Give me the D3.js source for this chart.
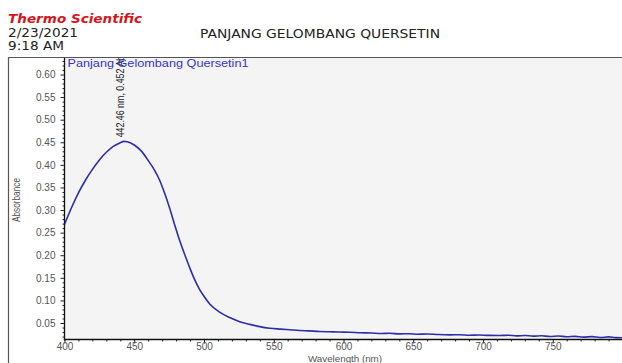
<!DOCTYPE html>
<html><head><meta charset="utf-8">
<script src="https://cdn.jsdelivr.net/npm/d3@7"></script>
<style>body{margin:0;background:#fff}svg{display:block}</style>
</head><body>
<script>
const wavelengths = [400,405,410,415,420,425,430,435,440,442.46,445,450,455,461,464.6,468.2,471.8,475.4,478.9,482.5,486.1,489.7,493.3,496.9,500.5,504.1,511.2,518.4,525.6,532.8,539.9,547.1,555,561.5,568.6,575,583,590,597,604.5,612,620,627,633,640.4,647,653,660,668,676.3,683,690,697,704,712.2,718,724,730,736,742,748,754,760,766,772,778,784,790,795,800];
const absorbance = [0.268,0.305,0.338,0.366,0.390,0.411,0.428,0.441,0.449,0.452,0.451,0.444,0.431,0.405,0.388,0.366,0.337,0.304,0.268,0.233,0.202,0.173,0.146,0.124,0.107,0.092,0.074,0.062,0.053,0.047,0.042,0.0385,0.0365,0.0350,0.0334,0.0325,0.0312,0.0306,0.0300,0.0296,0.0285,0.0280,0.0268,0.0272,0.0260,0.0262,0.0250,0.0256,0.0244,0.0238,0.0241,0.0230,0.0235,0.0226,0.0223,0.0230,0.0215,0.0224,0.0210,0.0218,0.0200,0.0212,0.0195,0.0205,0.0188,0.0198,0.0180,0.0192,0.0176,0.0172];
const xTicks = [400,450,500,550,600,650,700,750];
const yTicks = [0.05,0.10,0.15,0.20,0.25,0.30,0.35,0.40,0.45,0.50,0.55,0.60];
const peakLabel = "442.46 nm, 0.452 Abs";
const seriesName = "Panjang Gelombang Quersetin1";

const W=622,H=363;
const svg=d3.select("body").append("svg").attr("width",W).attr("height",H);
const L=64.5, R=622, T=58, B=339.5;
const x=d3.scaleLinear().domain([400,800]).range([L,R+0.5]);
const y=d3.scaleLinear().domain([0.0135,0.6365]).range([B,T]);

// header
svg.append("text").attr("x",8).attr("y",23).attr("fill","#d5141b").attr("font-family","DejaVu Sans").attr("font-weight","bold").attr("font-style","italic").attr("font-size",13).attr("textLength",134).attr("lengthAdjust","spacingAndGlyphs").text("Thermo Scientific");
svg.append("text").attr("x",8).attr("y",37).attr("fill","#222").attr("font-family","DejaVu Sans").attr("font-size",11.5).attr("textLength",70).attr("lengthAdjust","spacingAndGlyphs").text("2/23/2021");
svg.append("text").attr("x",8).attr("y",49.5).attr("fill","#222").attr("font-family","DejaVu Sans").attr("font-size",11.5).attr("textLength",56).attr("lengthAdjust","spacingAndGlyphs").text("9:18 AM");
svg.append("text").attr("x",200).attr("y",38).attr("fill","#222").attr("font-family","DejaVu Sans").attr("font-size",12).attr("textLength",240).attr("lengthAdjust","spacingAndGlyphs").text("PANJANG GELOMBANG QUERSETIN");

// frame
svg.append("line").attr("x1",8).attr("x2",W).attr("y1",57.5).attr("y2",57.5).attr("stroke","#555").attr("stroke-width",1.2);
svg.append("line").attr("x1",8.5).attr("x2",8.5).attr("y1",57).attr("y2",H).attr("stroke","#555").attr("stroke-width",1.2);

// plot bg
svg.append("rect").attr("x",L).attr("y",T).attr("width",R-L).attr("height",B-T).attr("fill","#f4f4f4");

const g=svg.append("g");
// y axis
const yAx=d3.axisLeft(y).tickValues(yTicks).tickFormat(d3.format(".2f")).tickSize(4).tickPadding(5);
const ya=g.append("g").attr("transform",`translate(${L},0)`).call(yAx);
ya.select(".domain").remove();
ya.selectAll("line").attr("stroke","#222");
ya.selectAll("text").attr("font-family","Liberation Sans").attr("font-size",10).attr("fill","#555");
const yMinor=d3.range(0.02,0.635,0.01).filter(v=>Math.abs(Math.round(v*20)-v*20)>1e-6);
const yMi=g.append("g").attr("transform",`translate(${L},0)`).call(d3.axisLeft(y).tickValues(yMinor).tickSize(2).tickFormat(""));
yMi.select(".domain").remove(); yMi.selectAll("line").attr("stroke","#222");

// x axis
const xAx=d3.axisBottom(x).tickValues(xTicks).tickFormat(d3.format("d")).tickSize(4).tickPadding(-0.5);
const xa=g.append("g").attr("transform",`translate(0,${B})`).call(xAx);
xa.select(".domain").remove();
xa.selectAll("line").attr("stroke","#222");
xa.selectAll("text").attr("font-family","Liberation Sans").attr("font-size",10).attr("fill","#555");
const xMinor=d3.range(410,800,10).filter(v=>v%50!==0);
const xMi=g.append("g").attr("transform",`translate(0,${B})`).call(d3.axisBottom(x).tickValues(xMinor).tickSize(2).tickFormat(""));
xMi.select(".domain").remove(); xMi.selectAll("line").attr("stroke","#222");

// axis lines
svg.append("line").attr("x1",L).attr("x2",L).attr("y1",T).attr("y2",B+1).attr("stroke","#111").attr("stroke-width",1.3);
svg.append("line").attr("x1",L).attr("x2",R).attr("y1",B).attr("y2",B).attr("stroke","#111").attr("stroke-width",1.3);

// axis titles
svg.append("text").attr("transform",`translate(20,200) rotate(-90)`).attr("text-anchor","middle").attr("font-family","Liberation Sans").attr("font-size",10).attr("fill","#555").attr("textLength",44).attr("lengthAdjust","spacingAndGlyphs").text("Absorbance");
svg.append("text").attr("x",345).attr("y",361.5).attr("text-anchor","middle").attr("font-family","Liberation Sans").attr("font-size",9).attr("fill","#555").attr("textLength",74).attr("lengthAdjust","spacingAndGlyphs").text("Wavelength (nm)");

// clip
svg.append("clipPath").attr("id","c").append("rect").attr("x",L).attr("y",T).attr("width",R-L).attr("height",B-T);
const pg=svg.append("g").attr("clip-path","url(#c)");
const pts=wavelengths.map((w,i)=>[w,absorbance[i]]);
pg.append("path").datum(pts).attr("fill","none").attr("stroke","#2d2daa").attr("stroke-width",1.6)
  .attr("d",d3.line().x(d=>x(d[0])).y(d=>y(d[1])).curve(d3.curveMonotoneX));
pg.append("text").attr("transform",`translate(${x(442.46)},${y(0.452)-4}) rotate(-90)`).attr("font-family","Liberation Sans").attr("font-size",10.5).attr("fill","#222").attr("textLength",86).attr("lengthAdjust","spacingAndGlyphs").text(peakLabel);
svg.append("text").attr("x",L+3).attr("y",T+8.5).attr("font-family","Liberation Sans").attr("font-size",11.5).attr("fill","#3434c8").attr("textLength",181).attr("lengthAdjust","spacingAndGlyphs").text(seriesName);
</script>
</body></html>
